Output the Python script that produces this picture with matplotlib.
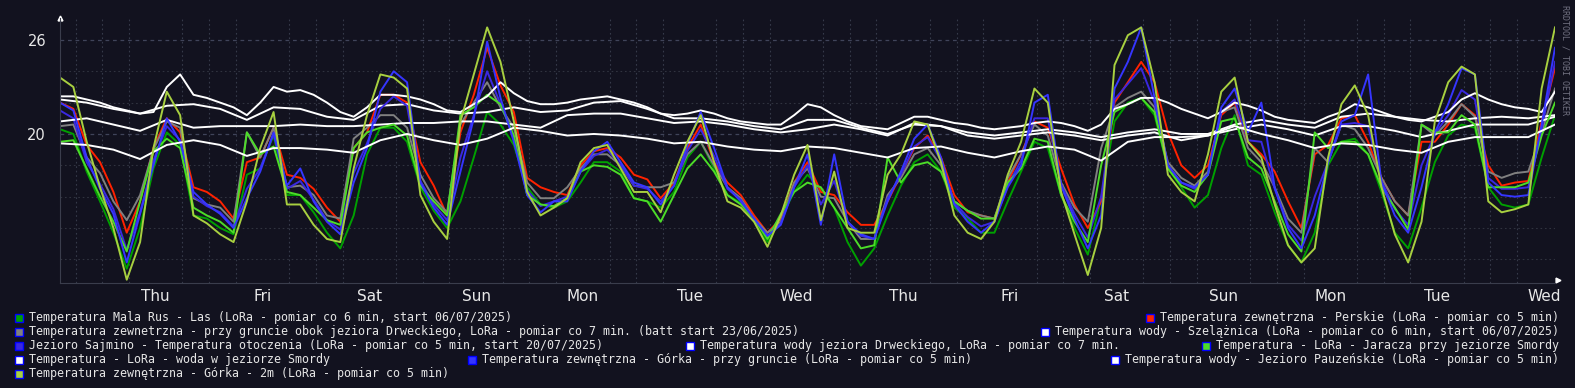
"""Temperatury LoRa - ostatnie 14 dni (odtworzenie wykresu RRDtool)."""

import numpy as np
import matplotlib
matplotlib.use("Agg")
import matplotlib.pyplot as plt
from matplotlib.patches import Rectangle

W, H = 1575, 388
BG = "#12121f"

# czas w godzinach od początku okna (śr 14:30), próbki co 3 h i co 6 h
hours_3h = np.arange(0, 337, 3)
hours_6h = np.arange(0, 337, 6)

day_labels = ["Thu", "Fri", "Sat", "Sun", "Mon", "Tue", "Wed",
              "Thu", "Fri", "Sat", "Sun", "Mon", "Tue", "Wed"]
first_noon = 21.5  # czw 12:00 w godzinach od początku

# --- temperatury powietrza (co 3 h) ---
mala_rus = [20.3, 20.0, 17.6, 15.7, 13.7, 11.4, 14.0, 17.8, 20.1, 19.3,
            14.8, 14.6, 14.0, 13.6, 17.4, 17.8, 19.9, 16.1, 16.1, 15.0,
            13.7, 12.7, 14.8, 18.7, 20.4, 20.4, 19.5, 16.6, 15.1, 14.0,
            15.7, 18.5, 21.4, 20.6, 19.3, 16.6, 15.5, 15.3, 15.7, 16.9,
            18.2, 18.2, 17.6, 15.9, 15.7, 15.3, 16.3, 18.5, 19.5, 17.8,
            16.1, 15.6, 14.4, 13.1, 14.6, 16.3, 17.4, 16.5, 15.3, 13.1,
            11.6, 12.7, 14.8, 16.7, 18.2, 18.7, 17.6, 15.3, 14.6, 13.7,
            13.7, 15.7, 17.6, 19.5, 19.1, 16.1, 14.0, 12.3, 15.9, 20.8,
            22.0, 22.3, 21.2, 17.8, 16.6, 15.3, 16.1, 19.1, 21.2, 18.0,
            17.4, 15.0, 12.9, 11.8, 13.7, 18.0, 19.5, 19.7, 18.7, 16.3,
            13.7, 12.7, 15.3, 18.2, 19.9, 20.6, 20.4, 16.6, 15.5, 15.3,
            15.5, 18.5, 21.2]

perskie = [22.0, 21.6, 19.3, 18.2, 16.3, 13.7, 15.7, 19.1, 21.0, 20.1,
           16.6, 16.3, 15.7, 14.6, 18.2, 18.5, 20.4, 17.4, 17.2, 16.5,
           15.3, 14.4, 19.1, 20.1, 22.5, 22.5, 22.0, 18.2, 16.7, 14.8,
           20.1, 22.5, 25.5, 23.1, 21.4, 17.2, 16.6, 16.3, 16.1, 18.0,
           18.9, 19.1, 18.5, 17.4, 17.1, 15.9, 16.9, 19.1, 20.6, 18.2,
           16.9, 16.1, 14.8, 13.7, 14.6, 16.9, 18.2, 16.3, 16.1, 15.0,
           14.2, 14.2, 15.7, 17.4, 19.1, 19.9, 18.5, 16.1, 15.0, 14.8,
           14.6, 16.9, 18.7, 20.8, 20.4, 17.8, 15.5, 14.0, 15.7, 22.0,
           23.3, 24.6, 23.3, 20.1, 18.0, 17.2, 18.0, 21.2, 22.0, 19.5,
           18.7, 17.6, 15.7, 14.0, 18.7, 19.3, 21.0, 21.2, 19.5, 17.2,
           15.7, 14.8, 19.5, 19.5, 20.6, 21.9, 21.2, 18.0, 16.7, 16.9,
           17.0, 20.8, 24.2]

drweca_grunt = [20.5, 20.6, 18.5, 17.5, 15.7, 14.5, 16.1, 19.0, 20.8, 20.4,
                15.9, 15.5, 15.3, 14.4, 20.1, 18.5, 20.4, 16.6, 16.7, 16.1,
                14.8, 14.6, 19.7, 20.4, 21.2, 21.2, 20.4, 17.4, 15.9, 15.0,
                20.6, 22.0, 23.3, 21.7, 20.4, 16.9, 15.9, 15.9, 16.6, 17.8,
                18.7, 18.7, 18.0, 16.7, 16.6, 16.6, 16.9, 18.7, 19.5, 18.0,
                16.6, 15.9, 14.6, 13.7, 14.4, 16.9, 17.8, 16.0, 15.9, 14.4,
                13.3, 13.3, 16.1, 17.2, 18.7, 19.1, 18.0, 15.7, 15.1, 14.8,
                14.6, 17.2, 18.7, 20.6, 19.9, 16.9, 15.3, 14.4, 19.1, 21.7,
                22.3, 22.7, 21.7, 18.2, 17.2, 16.7, 17.6, 21.4, 21.7, 19.1,
                18.2, 16.6, 14.6, 13.7, 19.1, 18.2, 20.6, 20.3, 19.1, 17.2,
                15.7, 14.8, 20.6, 19.9, 20.8, 21.9, 21.1, 17.6, 17.2, 17.5,
                17.6, 20.1, 22.9]

sajmino = [21.5, 21.0, 18.2, 16.8, 15.2, 12.6, 15.0, 18.3, 20.5, 19.6,
           16.0, 15.4, 15.0, 14.1, 16.5, 17.8, 20.0, 16.5, 17.0, 15.8,
           14.5, 13.9, 17.5, 19.4, 21.6, 22.4, 21.8, 17.0, 15.5, 14.5,
           18.5, 21.2, 24.0, 21.9, 19.8, 16.4, 15.4, 15.7, 16.0, 17.6,
           18.6, 19.0, 18.0, 16.7, 16.5, 15.7, 16.7, 18.9, 20.3, 18.6,
           16.5, 15.8, 14.5, 13.5, 14.3, 16.6, 18.0, 15.5, 17.0, 14.4,
           13.5, 13.3, 15.9, 17.4, 19.2, 19.8, 18.3, 15.6, 14.7, 14.1,
           14.4, 16.7, 18.3, 21.0, 21.0, 16.8, 14.9, 13.4, 16.0, 22.2,
           23.2, 24.2, 22.0, 18.0, 16.9, 16.5, 17.4, 21.4, 22.2, 19.6,
           19.5, 16.5, 14.2, 13.2, 16.0, 18.2, 20.6, 20.7, 20.5, 17.0,
           15.2, 14.2, 18.0, 20.0, 21.2, 22.8, 22.2, 17.2, 16.5, 16.5,
           16.6, 20.3, 24.6]

jaracza = [19.5, 19.6, 17.8, 16.0, 14.4, 12.5, 15.7, 18.9, 19.7, 19.1,
           15.3, 14.8, 14.4, 13.7, 20.1, 18.7, 19.2, 16.3, 16.1, 15.3,
           14.5, 14.2, 19.1, 20.1, 20.4, 20.6, 19.9, 16.7, 15.7, 14.8,
           21.2, 21.7, 22.5, 21.9, 19.9, 16.1, 15.5, 15.4, 15.9, 17.6,
           18.0, 17.9, 17.4, 15.9, 15.7, 14.4, 16.1, 17.8, 18.7, 17.6,
           16.1, 15.5, 14.6, 13.3, 14.9, 16.3, 16.9, 16.6, 15.3, 14.0,
           12.7, 12.9, 18.5, 16.9, 18.0, 18.2, 17.6, 15.7, 15.1, 14.6,
           14.6, 16.9, 17.8, 19.7, 19.5, 16.1, 14.4, 13.1, 18.0, 21.4,
           21.9, 22.3, 21.4, 17.8, 16.7, 16.3, 17.4, 20.8, 21.0, 18.5,
           17.8, 15.7, 13.6, 12.5, 20.1, 19.1, 19.5, 19.5, 18.7, 16.6,
           15.3, 13.9, 20.6, 20.1, 20.1, 21.2, 20.6, 16.6, 16.6, 16.6,
           16.9, 19.9, 22.0]

gorka_grunt = [22.0, 21.5, 18.5, 16.5, 14.9, 11.8, 14.9, 18.0, 21.0, 19.5,
               16.3, 15.5, 14.9, 14.0, 15.9, 17.6, 20.1, 16.7, 17.8, 15.7,
               14.4, 13.6, 16.9, 19.1, 22.7, 24.0, 23.3, 16.9, 15.3, 14.2,
               17.6, 21.0, 25.9, 22.3, 19.5, 16.1, 15.0, 15.7, 15.7, 17.6,
               18.9, 19.5, 18.2, 16.9, 16.6, 15.5, 16.7, 19.3, 21.4, 19.1,
               16.6, 15.7, 14.6, 13.5, 14.2, 16.6, 18.7, 14.2, 18.7, 14.4,
               13.6, 13.3, 15.7, 17.6, 19.7, 20.6, 18.5, 15.5, 14.4, 13.7,
               14.4, 16.6, 18.0, 22.0, 22.5, 16.7, 14.6, 12.7, 14.8, 22.9,
               24.6, 26.8, 22.3, 18.0, 16.9, 16.6, 17.4, 21.7, 22.9, 20.1,
               22.0, 16.6, 14.0, 12.7, 14.8, 18.2, 20.8, 21.2, 23.8, 16.9,
               14.8, 13.7, 16.6, 20.1, 21.9, 24.2, 23.8, 16.9, 16.1, 16.0,
               16.1, 20.6, 25.5]

gorka_2m = [23.6, 23.0, 19.5, 16.6, 14.0, 10.7, 13.1, 19.1, 22.7, 21.2,
            14.8, 14.3, 13.6, 13.1, 15.7, 19.1, 21.4, 15.5, 15.5, 14.2,
            13.3, 13.1, 17.8, 21.2, 23.8, 23.6, 22.9, 16.1, 14.4, 13.3,
            20.8, 23.8, 26.8, 24.6, 20.8, 16.3, 14.8, 15.3, 15.9, 18.2,
            19.1, 19.3, 17.8, 16.3, 16.3, 15.0, 17.4, 19.5, 21.2, 18.2,
            15.7, 15.3, 14.4, 12.8, 14.8, 17.4, 19.3, 14.5, 17.6, 14.0,
            13.7, 13.7, 17.4, 18.7, 20.8, 20.6, 18.2, 14.8, 13.7, 13.3,
            14.4, 17.4, 19.5, 22.9, 22.0, 16.3, 13.6, 11.0, 14.0, 24.4,
            26.3, 26.8, 23.3, 17.4, 16.3, 15.7, 18.7, 22.7, 23.6, 19.5,
            18.5, 15.5, 12.9, 11.8, 12.7, 18.5, 21.9, 23.1, 21.2, 16.6,
            13.6, 11.8, 14.4, 20.8, 23.3, 24.3, 23.8, 15.7, 15.0, 15.2,
            15.5, 22.9, 26.8]

# --- temperatury wody ---
smordy_woda = [22.4, 22.4, 22.2, 22.0, 21.7, 21.5, 21.3, 21.4, 23.0, 23.8,
               22.5, 22.3, 22.0, 21.7, 21.2, 22.0, 23.0, 22.7, 22.8, 22.5,
               22.0, 21.4, 21.1, 21.7, 22.5, 22.5, 22.4, 22.2, 21.9, 21.5,
               21.4, 21.9, 22.4, 23.3, 22.6, 22.1, 21.9, 21.9, 22.0, 22.2,
               22.3, 22.4, 22.2, 22.0, 21.7, 21.3, 21.2, 21.3, 21.5, 21.3,
               21.0, 20.8, 20.7, 20.6, 20.6, 21.2, 21.9, 21.7, 21.2, 20.8,
               20.5, 20.4, 20.3, 20.7, 21.1, 21.1, 20.9, 20.7, 20.6, 20.4,
               20.3, 20.4, 20.5, 20.7, 20.8, 20.7, 20.5, 20.2, 20.6, 21.6,
               21.9, 22.3, 22.3, 22.0, 21.6, 21.3, 21.0, 21.4, 22.0, 21.8,
               21.5, 21.1, 20.9, 20.8, 20.7, 21.1, 21.4, 21.9, 21.7, 21.4,
               21.1, 20.9, 20.8, 21.1, 21.4, 22.2, 22.6, 22.2, 21.9, 21.7,
               21.6, 21.4, 22.7]

szelaznica_woda = [22.2, 22.0, 21.6, 21.3, 21.8, 21.9, 21.6, 20.9, 21.7, 21.6,
                   21.1, 20.9, 21.8, 21.9, 21.5, 21.3, 21.4, 21.7, 21.4, 21.5,
                   22.0, 22.1, 21.6, 21.0, 21.0, 20.8, 20.5, 20.3, 20.9, 20.9,
                   20.4, 20.0, 20.6, 20.5, 20.1, 19.9, 20.1, 20.3, 20.1, 19.8,
                   20.1, 20.3, 20.0, 20.0, 20.6, 20.9, 20.6, 20.4, 21.1, 21.3,
                   21.1, 20.9, 20.8, 21.0, 21.1, 21.0, 21.2]

drweca_woda = [20.8, 21.0, 20.6, 20.2, 20.9, 20.4, 20.5, 20.5, 20.5, 20.6,
               20.5, 20.5, 20.6, 20.7, 20.7, 20.8, 20.8, 20.6, 20.4, 21.2,
               21.3, 21.3, 21.0, 20.7, 20.8, 20.6, 20.3, 20.1, 20.3, 20.6,
               20.3, 19.9, 20.7, 20.5, 19.9, 19.7, 19.9, 20.1, 19.9, 19.6,
               19.9, 20.1, 19.6, 19.9, 20.3, 20.6, 20.3, 19.9, 20.5, 20.5,
               20.2, 19.8, 20.2, 20.6, 20.6, 20.6, 21.1]

pauzenskie_woda = [19.4, 19.3, 19.0, 18.4, 19.3, 19.6, 19.3, 18.6, 19.1, 19.1,
                   19.0, 18.8, 19.6, 20.0, 19.6, 19.3, 19.7, 20.4, 20.2, 19.9,
                   20.0, 19.9, 19.7, 19.4, 19.5, 19.2, 19.0, 18.9, 19.2, 19.1,
                   18.8, 18.5, 19.1, 19.2, 18.8, 18.5, 18.9, 19.2, 19.0, 18.3,
                   19.5, 19.8, 19.8, 19.9, 20.5, 20.0, 19.6, 19.1, 19.4, 19.3,
                   19.0, 18.8, 19.5, 19.8, 19.8, 19.8, 20.6]

# kolejność jak w definicji RRD (ostatnia seria rysowana na wierzchu)
series = [
    ("Temperatura Mala Rus - Las (LoRa - pomiar co 6 min, start 06/07/2025)", "#00a000", hours_3h, mala_rus),
    ("Temperatura zewnętrzna - Perskie (LoRa - pomiar co 5 min)", "#ff2200", hours_3h, perskie),
    ("Temperatura zewnetrzna - przy gruncie obok jeziora Drweckiego, LoRa - pomiar co 7 min. (batt start 23/06/2025)", "#808080", hours_3h, drweca_grunt),
    ("Temperatura wody - Szelążnica (LoRa - pomiar co 6 min, start 06/07/2025)", "#ffffff", hours_6h, szelaznica_woda),
    ("Jezioro Sajmino - Temperatura otoczenia (LoRa - pomiar co 5 min, start 20/07/2025)", "#3a28e0", hours_3h, sajmino),
    ("Temperatura wody jeziora Drweckiego, LoRa - pomiar co 7 min.", "#ffffff", hours_6h, drweca_woda),
    ("Temperatura - LoRa - Jaracza przy jeziorze Smordy", "#4cdc28", hours_3h, jaracza),
    ("Temperatura - LoRa - woda w jeziorze Smordy", "#ffffff", hours_3h, smordy_woda),
    ("Temperatura zewnętrzna - Górka - przy gruncie (LoRa - pomiar co 5 min)", "#3535ff", hours_3h, gorka_grunt),
    ("Temperatura wody - Jezioro Pauzeńskie (LoRa - pomiar co 5 min)", "#ffffff", hours_6h, pauzenskie_woda),
    ("Temperatura zewnętrzna - Górka - 2m (LoRa - pomiar co 5 min)", "#a8d040", hours_3h, gorka_2m),
]

# położenie wpisów legendy: (x kwadratu w px, numer wiersza)
legend_pos = [(15, 0), (1146, 0), (15, 1), (1041, 1), (15, 2), (686, 2),
              (1202, 2), (15, 3), (468, 3), (1111, 3), (15, 4)]
row_y = [317.5, 331.5, 345.7, 359.8, 374.0]

fig = plt.figure(figsize=(W / 100, H / 100), dpi=100, facecolor=BG)
ax = fig.add_axes([60 / W, 105 / H, 1495 / W, 265 / H], facecolor=BG)

for label, color, x, y in series:
    ax.plot(x, y, color=color, lw=1.4, solid_joinstyle="round")

ax.set_xlim(0, 336)
ax.set_ylim(10.49, 27.40)

# siatka i osie w stylu RRDtool
ax.set_yticks([20, 26])
ax.set_yticks(np.arange(12, 27, 2), minor=True)
ax.set_xticks([first_noon + 24 * i for i in range(len(day_labels))])
ax.set_xticklabels(day_labels)
ax.set_xticks(np.arange(3.5, 336, 6), minor=True)
ax.grid(False)
ax.grid(True, which="minor", axis="x", color="#363a4a", lw=0.8, linestyle=(0, (1.5, 2.5)))
ax.grid(True, which="minor", axis="y", color="#30333f", lw=0.8, linestyle=(0, (1.5, 2.5)))
ax.grid(True, which="major", axis="y", color="#40445a", lw=0.9, linestyle=(0, (3, 3)))
ax.tick_params(which="both", length=0, colors="#e8e8e8")
ax.tick_params(axis="y", labelsize=10.5, pad=10)
ax.tick_params(axis="x", labelsize=11, pad=4)
for side in ["top", "right"]:
    ax.spines[side].set_visible(False)
for side in ["left", "bottom"]:
    ax.spines[side].set_color("#3a3d4c")
    ax.spines[side].set_linewidth(0.8)
ax.set_axisbelow(True)

# strzałki osi
ax.plot([0], [1.0], marker="^", ms=3.5, color="white", transform=ax.transAxes, clip_on=False)
ax.plot([1.002], [0.012], marker=">", ms=3.5, color="white", transform=ax.transAxes, clip_on=False)

# legenda
for (label, color, _, _), (sx, row) in zip(series, legend_pos):
    yc = row_y[row]
    fig.add_artist(Rectangle((sx / W, 1 - (yc + 4) / H), 8 / W, 8 / H,
                             transform=fig.transFigure, facecolor=color,
                             edgecolor="#0000ff", lw=1))
    fig.text((sx + 14) / W, 1 - yc / H, label, va="center", ha="left",
             family=["DejaVu Sans Mono"], fontsize=8.4, color="#e6e6e6")

fig.text(1565.5 / W, 1 - 60 / H, "RRDTOOL / TOBI OETIKER", rotation=270,
         ha="center", va="center", family=["DejaVu Sans Mono"], fontsize=6,
         color="#707080")

plt.savefig("out.png", dpi=100, facecolor=BG)
